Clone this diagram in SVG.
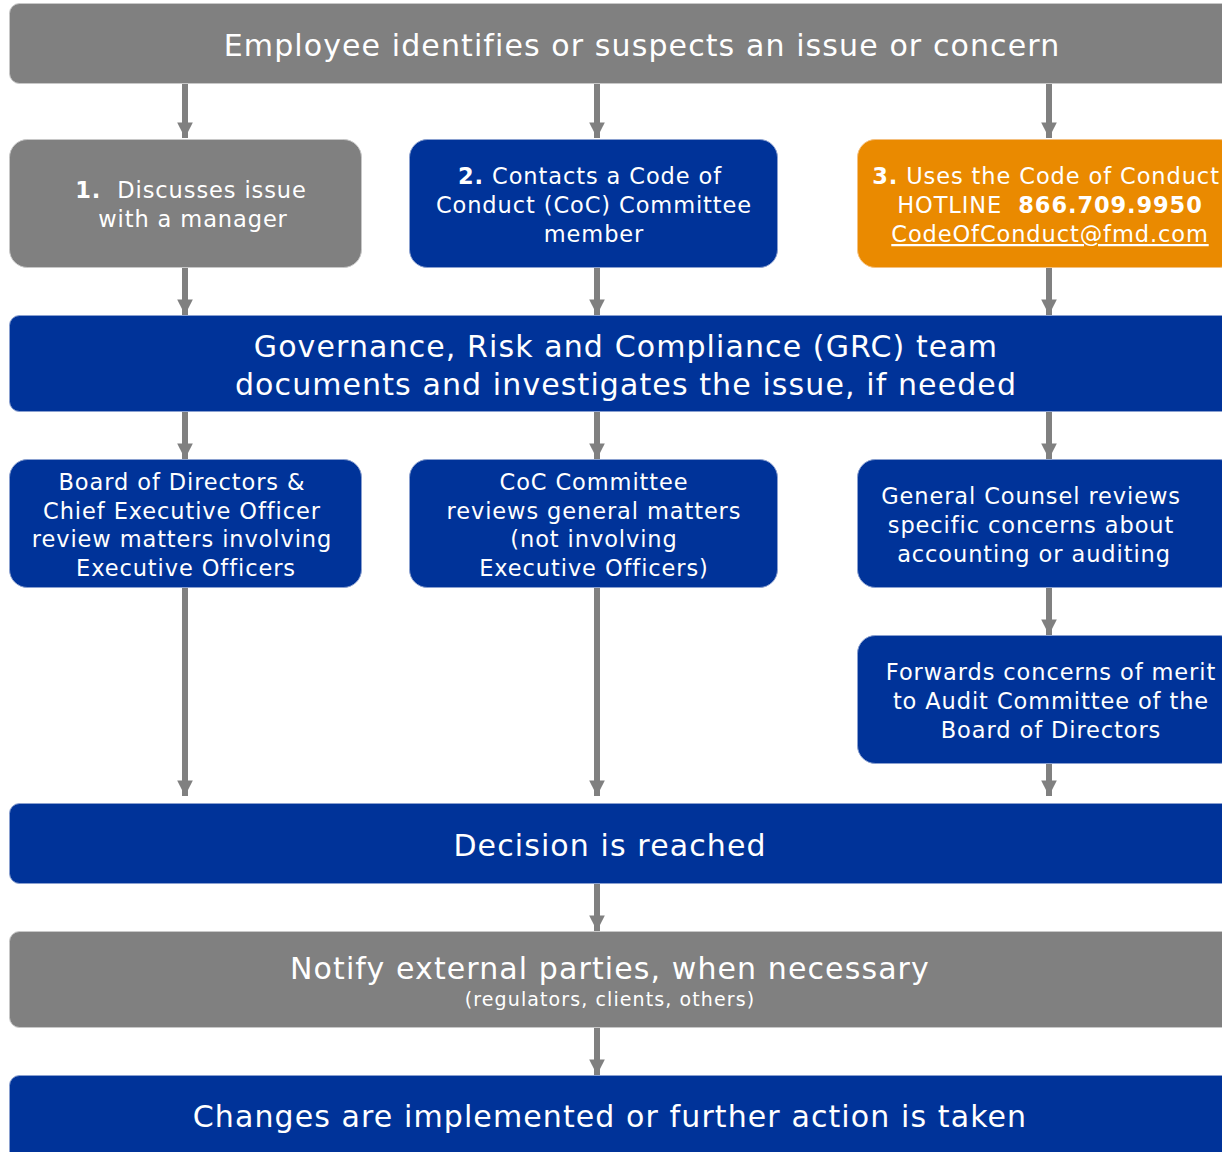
<svg xmlns="http://www.w3.org/2000/svg" width="1222" height="1152" viewBox="0 0 1222 1152">
<style>
.g{fill:#808080;stroke:#c8c8c8;stroke-width:1}
.b{fill:#003399;stroke:#8aa0d0;stroke-width:1}
.o{fill:#ea8a00;stroke:#f4c080;stroke-width:1}
text{font-family:"DejaVu Sans",Verdana,sans-serif;fill:#fff;text-anchor:middle}
.big{font-size:30px;letter-spacing:1.1px}
.mid{font-size:22.5px;letter-spacing:0.9px}
.sm{font-size:19px;letter-spacing:1.1px}
.c{stroke:#808080;stroke-width:6;fill:none}
</style>
<defs>
<marker id="ah" viewBox="0 0 10 10" refX="10" refY="5" markerWidth="2.6" markerHeight="2.6" orient="auto" markerUnits="strokeWidth">
<path d="M0,0 L10,5 L0,10 z" fill="#808080"/>
</marker>
</defs>
<g id="connectors">
<path class="c" d="M185,83 V138" marker-end="url(#ah)"/>
<path class="c" d="M597,83 V138" marker-end="url(#ah)"/>
<path class="c" d="M1049,83 V138" marker-end="url(#ah)"/>
<path class="c" d="M185,267 V315" marker-end="url(#ah)"/>
<path class="c" d="M597,267 V315" marker-end="url(#ah)"/>
<path class="c" d="M1049,267 V315" marker-end="url(#ah)"/>
<path class="c" d="M185,411 V459" marker-end="url(#ah)"/>
<path class="c" d="M597,411 V459" marker-end="url(#ah)"/>
<path class="c" d="M1049,411 V459" marker-end="url(#ah)"/>
<path class="c" d="M1049,587 V635" marker-end="url(#ah)"/>
<path class="c" d="M185,587 V796" marker-end="url(#ah)"/>
<path class="c" d="M597,587 V796" marker-end="url(#ah)"/>
<path class="c" d="M1049,763 V796" marker-end="url(#ah)"/>
<path class="c" d="M597,883 V931" marker-end="url(#ah)"/>
<path class="c" d="M597,1027 V1075" marker-end="url(#ah)"/>
</g>
<g id="n-employee">
<rect class="g" x="9.5" y="3.5" width="1230" height="80" rx="10"/>
<text class="big" x="642" y="56">Employee identifies or suspects an issue or concern</text>
</g>
<g id="n-manager">
<rect class="g" x="9.5" y="139.5" width="352" height="128" rx="18"/>
<text class="mid" x="191" y="198"><tspan font-weight="bold">1.</tspan>&#160; Discusses issue</text>
<text class="mid" x="193" y="227">with a manager</text>
</g>
<g id="n-coc">
<rect class="b" x="409.5" y="139.5" width="368" height="128" rx="18"/>
<text class="mid" x="590" y="184"><tspan font-weight="bold">2.</tspan> Contacts a Code of</text>
<text class="mid" x="594" y="213">Conduct (CoC) Committee</text>
<text class="mid" x="594" y="242">member</text>
</g>
<g id="n-hotline">
<rect class="o" x="857.5" y="139.5" width="380" height="128" rx="18"/>
<text class="mid" x="1046" y="184"><tspan font-weight="bold">3.</tspan> Uses the Code of Conduct</text>
<text class="mid" x="1050" y="213">HOTLINE&#160; <tspan font-weight="bold">866.709.9950</tspan></text>
<text class="mid" x="1050" y="242" text-decoration="underline">CodeOfConduct@fmd.com</text>
</g>
<g id="n-grc">
<rect class="b" x="9.5" y="315.5" width="1230" height="96" rx="10"/>
<text class="big" x="626" y="357">Governance, Risk and Compliance (GRC) team</text>
<text class="big" x="626" y="395">documents and investigates the issue, if needed</text>
</g>
<g id="n-board">
<rect class="b" x="9.5" y="459.5" width="352" height="128" rx="18"/>
<text class="mid" x="182" y="490">Board of Directors &amp;</text>
<text class="mid" x="182" y="519">Chief Executive Officer</text>
<text class="mid" x="182" y="547">review matters involving</text>
<text class="mid" x="186" y="576">Executive Officers</text>
</g>
<g id="n-cocreview">
<rect class="b" x="409.5" y="459.5" width="368" height="128" rx="18"/>
<text class="mid" x="594" y="490">CoC Committee</text>
<text class="mid" x="594" y="519">reviews general matters</text>
<text class="mid" x="594" y="547">(not involving</text>
<text class="mid" x="594" y="576">Executive Officers)</text>
</g>
<g id="n-counsel">
<rect class="b" x="857.5" y="459.5" width="380" height="128" rx="18"/>
<text class="mid" x="1031" y="504">General Counsel reviews</text>
<text class="mid" x="1031" y="533">specific concerns about</text>
<text class="mid" x="1034" y="562">accounting or auditing</text>
</g>
<g id="n-forwards">
<rect class="b" x="857.5" y="635.5" width="380" height="128" rx="18"/>
<text class="mid" x="1051" y="680">Forwards concerns of merit</text>
<text class="mid" x="1051" y="709">to Audit Committee of the</text>
<text class="mid" x="1051" y="738">Board of Directors</text>
</g>
<g id="n-decision">
<rect class="b" x="9.5" y="803.5" width="1230" height="80" rx="10"/>
<text class="big" x="610" y="856">Decision is reached</text>
</g>
<g id="n-notify">
<rect class="g" x="9.5" y="931.5" width="1230" height="96" rx="10"/>
<text class="big" x="610" y="979">Notify external parties, when necessary</text>
<text class="sm" x="610" y="1006">(regulators, clients, others)</text>
</g>
<g id="n-changes">
<rect class="b" x="9.5" y="1075.5" width="1230" height="100" rx="10"/>
<text class="big" x="610" y="1127">Changes are implemented or further action is taken</text>
</g>
</svg>
